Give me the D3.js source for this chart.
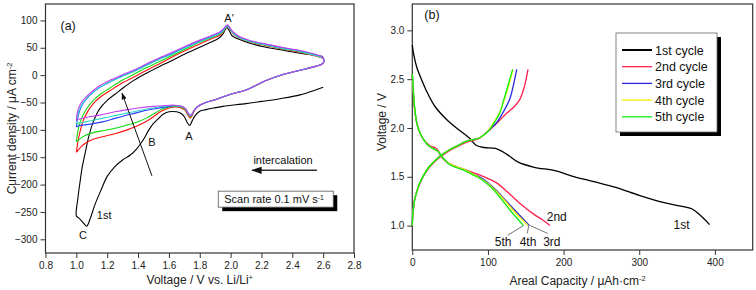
<!DOCTYPE html>
<html>
<head>
<meta charset="utf-8">
<script src="https://cdn.jsdelivr.net/npm/d3@7"></script>
<style>
  body { margin: 0; background: #fff; }
  svg { display: block; font-family: "Liberation Sans", Arial, sans-serif; }
</style>
</head>
<body>
<div id="chart"></div>
<script>
// ---- panel (a): cyclic voltammetry, [voltage V, current uA/cm2] ----
const cvVoltTicks = [0.8, 1.0, 1.2, 1.4, 1.6, 1.8, 2.0, 2.2, 2.4, 2.6, 2.8];
const cvCurrTicks = [-300, -250, -200, -150, -100, -50, 0, 50, 100];

const cvCycle1 = [
  [2.6,-22],[2.55,-27],[2.45,-36],[2.32,-43],[2.2,-48],[2.1,-52],[1.95,-57],[1.89,-60],[1.84,-63],
  [1.8,-66],[1.77,-74],[1.75,-84],[1.735,-92],[1.72,-87],[1.7,-76],[1.68,-70],[1.65,-67],[1.6,-67],
  [1.56,-72],[1.53,-80],[1.5,-88],[1.47,-100],[1.43,-120],[1.39,-135],[1.35,-146],[1.3,-155],
  [1.25,-167],[1.2,-185],[1.16,-210],[1.12,-237],[1.09,-262],[1.067,-276],[1.04,-268],[1.015,-261],
  [1.0,-257],[1.01,-225],[1.024,-195],[1.04,-165],[1.056,-144],[1.08,-113],[1.11,-85],[1.15,-62],
  [1.2,-46],[1.25,-35],[1.3,-24],[1.37,-10],[1.45,3],[1.54,16],[1.6,24],[1.7,38],[1.8,51],[1.87,60],
  [1.92,67],[1.95,75],[1.965,83],[1.975,87],[1.99,82],[2.01,72],[2.05,66],[2.13,58],[2.23,51],
  [2.35,45],[2.45,40],[2.55,36],[2.6,34]
];
const cvCycle2 = [
  [1.0,-141],[1.008,-125],[1.02,-108],[1.045,-83],[1.07,-68],[1.11,-52],[1.16,-39],[1.22,-28],
  [1.3,-14],[1.37,-4],[1.45,8],[1.54,21],[1.6,30],[1.7,44],[1.8,57],[1.88,67],[1.93,73],[1.955,80],
  [1.97,87],[1.98,89],[1.995,84],[2.02,75],[2.06,67],[2.13,60],[2.23,54],[2.35,47],[2.45,42],
  [2.55,35],[2.6,30],[2.6,22],[2.55,16],[2.45,9],[2.35,2],[2.23,-10],[2.1,-27],[2.0,-35],[1.9,-45],
  [1.84,-50],[1.8,-55],[1.77,-63],[1.75,-74],[1.74,-78],[1.725,-74],[1.71,-66],[1.68,-60],[1.64,-58],
  [1.6,-60],[1.55,-66],[1.5,-76],[1.45,-85],[1.4,-92],[1.33,-100],[1.25,-107],[1.18,-112],
  [1.11,-117],[1.06,-124],[1.03,-131],[1.0,-141]
];
const cvCycle3 = [
  [1.0,-122],[1.008,-105],[1.02,-90],[1.045,-72],[1.07,-60],[1.11,-46],[1.16,-34],[1.22,-23],
  [1.3,-9],[1.37,1],[1.45,13],[1.54,25],[1.6,33],[1.7,47],[1.8,60],[1.88,69],[1.93,75],[1.955,81],
  [1.97,88],[1.98,90],[1.995,85],[2.02,76],[2.06,68],[2.13,61],[2.23,55],[2.35,48],[2.45,43],
  [2.55,36],[2.6,31],[2.6,22],[2.55,16],[2.45,9],[2.35,2],[2.23,-10],[2.1,-27],[2.0,-35],[1.9,-45],
  [1.84,-50],[1.8,-55],[1.77,-62],[1.75,-72],[1.74,-76],[1.725,-72],[1.71,-64],[1.68,-58],[1.64,-57],
  [1.6,-58],[1.55,-63],[1.5,-71],[1.45,-79],[1.4,-85],[1.33,-91],[1.25,-97],[1.18,-101],
  [1.11,-105],[1.06,-110],[1.03,-115],[1.0,-122]
];
const cvCycle4 = [
  [1.0,-95],[1.006,-82],[1.02,-66],[1.045,-51],[1.07,-42],[1.11,-31],[1.16,-21],[1.22,-12],
  [1.3,-1],[1.37,7],[1.45,18],[1.54,30],[1.6,37],[1.7,50],[1.8,62],[1.88,71],[1.93,77],[1.955,83],
  [1.97,89],[1.98,91],[1.995,86],[2.02,77],[2.06,69],[2.13,62],[2.23,56],[2.35,49],[2.45,44],
  [2.55,37],[2.6,31],[2.6,22],[2.55,16],[2.45,9],[2.35,2],[2.23,-10],[2.1,-27],[2.0,-35],[1.9,-45],
  [1.84,-50],[1.8,-55],[1.77,-62],[1.75,-71],[1.74,-74],[1.725,-70],[1.71,-62],[1.68,-57],[1.64,-56],
  [1.6,-57],[1.5,-62],[1.4,-68],[1.33,-73],[1.25,-79],[1.175,-85],[1.1,-89],[1.05,-91],[1.02,-92],
  [1.0,-95]
];
const cvCycle5 = [
  [1.0,-89],[1.006,-77],[1.02,-63],[1.045,-50],[1.07,-41],[1.11,-31],[1.16,-21],[1.22,-12],
  [1.3,-2],[1.37,6],[1.45,17],[1.54,29],[1.6,36],[1.7,49],[1.8,61],[1.88,70],[1.93,76],[1.955,82],
  [1.97,88],[1.98,90],[1.995,85],[2.02,76],[2.06,68],[2.13,61],[2.23,55],[2.35,48],[2.45,43],
  [2.55,36],[2.6,31],[2.6,22],[2.55,16],[2.45,9],[2.35,2],[2.23,-10],[2.1,-27],[2.0,-35],[1.9,-45],
  [1.84,-50],[1.8,-55],[1.77,-62],[1.75,-71],[1.74,-74],[1.725,-70],[1.71,-62],[1.68,-57],[1.64,-56],
  [1.6,-56],[1.5,-60],[1.4,-65],[1.3,-71],[1.2,-77],[1.1,-83],[1.03,-87],[1.0,-89]
];
const cvCycle6 = [
  [1.0,-83],[1.004,-72],[1.015,-60],[1.04,-47],[1.067,-39],[1.11,-28],[1.153,-19],[1.22,-9],
  [1.3,1],[1.37,9],[1.45,20],[1.54,32],[1.6,39],[1.7,52],[1.8,64],[1.88,73],[1.93,79],[1.955,85],
  [1.97,90],[1.98,92],[1.995,87],[2.02,78],[2.06,70],[2.13,63],[2.23,57],[2.35,50],[2.45,45],
  [2.55,38],[2.6,32],[2.6,22],[2.55,16],[2.45,9],[2.35,2],[2.23,-10],[2.1,-27],[2.0,-35],[1.9,-45],
  [1.84,-50],[1.8,-55],[1.77,-62],[1.75,-71],[1.74,-74],[1.725,-70],[1.71,-62],[1.68,-57],[1.64,-55],
  [1.6,-55],[1.5,-57],[1.4,-60],[1.33,-63],[1.25,-67],[1.15,-73],[1.07,-77],[1.02,-80],[1.0,-83]
];
const cvSeries = [cvCycle1, cvCycle2, cvCycle3, cvCycle4, cvCycle5, cvCycle6];
const cvColors = ["#000000", "#ff1010", "#10dd10", "#2a3cff", "#30d8c8", "#c040f0"];

// ---- panel (b): galvanostatic curves, [capacity uAh/cm2, voltage V] ----
const capTicks = [0, 100, 200, 300, 400];
const voltTicks = [1.0, 1.5, 2.0, 2.5, 3.0];
const cycleNames = ["1st cycle", "2nd cycle", "3rd cycle", "4th cycle", "5th cycle"];
const cycleColors = ["#000000", "#ff2050", "#2828e0", "#f0f000", "#10ee10"];

const dis1 = [
  [0,2.85],[2,2.75],[6,2.62],[12,2.5],[20,2.36],[30,2.22],[45,2.09],[60,1.99],[75,1.9],[85,1.82],
  [95,1.8],[110,1.79],[125,1.73],[140,1.65],[160,1.6],[190,1.56],[210,1.51],[240,1.45],[270,1.39],
  [300,1.31],[330,1.24],[355,1.2],[370,1.17],[380,1.11],[393,1.01]
];
const dis2 = [
  [0,2.55],[1,2.4],[3,2.2],[6,2.05],[10,1.95],[15,1.88],[20,1.84],[25,1.81],[30,1.8],[34,1.77],
  [38,1.71],[44,1.66],[50,1.63],[58,1.6],[70,1.57],[85,1.53],[95,1.5],[111,1.44],[125,1.35],
  [142,1.23],[160,1.12],[172,1.06],[182,1.0]
];
const dis3 = [
  [0,2.55],[1,2.42],[3,2.2],[6,2.05],[10,1.95],[15,1.88],[20,1.83],[25,1.8],[30,1.78],[34,1.76],
  [38,1.72],[42,1.68],[50,1.63],[60,1.6],[70,1.57],[80,1.53],[89,1.5],[100,1.44],[110,1.37],
  [122,1.27],[134,1.17],[145,1.08],[155,1.0]
];
const dis4 = [
  [0,2.55],[1,2.42],[3,2.2],[6,2.05],[10,1.95],[15,1.88],[20,1.83],[25,1.8],[30,1.78],[34,1.76],
  [38,1.72],[42,1.68],[50,1.63],[60,1.6],[70,1.57],[80,1.53],[89,1.49],[100,1.43],[110,1.36],
  [122,1.26],[133,1.16],[144,1.07],[153,1.0]
];
const dis5 = [
  [0,2.55],[1,2.45],[2,2.3],[3.5,2.19],[6,2.05],[10,1.95],[15,1.88],[20,1.83],[25,1.8],[30,1.78],
  [34,1.76],[38,1.72],[42,1.68],[50,1.62],[60,1.59],[70,1.56],[80,1.52],[89,1.485],[100,1.42],
  [107,1.37],[118,1.27],[129,1.16],[138,1.08],[147,1.0]
];
const chg2 = [
  [0,1.0],[0.5,1.1],[1.3,1.16],[3,1.26],[6,1.35],[10,1.43],[15,1.51],[23,1.6],[33,1.68],[42,1.73],
  [52,1.78],[62,1.82],[74,1.86],[82,1.875],[90,1.9],[96,1.94],[102.5,1.98],[112,2.05],[124.7,2.15],
  [135,2.22],[142,2.29],[148,2.42],[153,2.6]
];
const chg3 = [
  [0,1.0],[0.5,1.1],[1.3,1.16],[3,1.26],[5.7,1.34],[9,1.42],[14.5,1.51],[22,1.6],[32,1.68],[40,1.73],
  [49.7,1.78],[60,1.82],[71.7,1.865],[80,1.88],[89,1.9],[96,1.94],[103,1.99],[112,2.06],[120,2.16],
  [129,2.3],[134,2.45],[138,2.6]
];
const chg4 = [
  [0,1.0],[0.5,1.1],[1.3,1.16],[3,1.26],[5.7,1.34],[9,1.42],[14.5,1.51],[22,1.6],[32,1.68],[40,1.73],
  [49.7,1.78],[60,1.82],[71.7,1.865],[80,1.88],[89,1.9],[95,1.93],[102,1.99],[108,2.06],[115.5,2.16],
  [122,2.3],[128,2.45],[133,2.6]
];
const chg5 = [
  [0,1.0],[0.5,1.1],[1.3,1.16],[3,1.26],[5.7,1.34],[9,1.42],[14.5,1.51],[22,1.6],[32,1.68],[40,1.73],
  [49.7,1.78],[60,1.82],[71.7,1.865],[80,1.88],[89,1.9],[95,1.93],[102,1.98],[108,2.05],[115.5,2.15],
  [121,2.29],[127,2.45],[132.6,2.6]
];
const gcCurves = [
  { pts: dis1, c: 0 }, { pts: dis2, c: 1 }, { pts: chg2, c: 1 },
  { pts: dis3, c: 2 }, { pts: chg3, c: 2 }, { pts: dis4, c: 3 }, { pts: chg4, c: 3 },
  { pts: dis5, c: 4 }, { pts: chg5, c: 4 }
];

// ---- drawing ----
const W = 756, H = 290;
const svg = d3.select("#chart").append("svg").attr("width", W).attr("height", H);
const ink = "#333";

function sup(textSel, parts) {
  // parts: [[string, isSuperscript], ...]
  parts.forEach(([s, up]) => {
    textSel.append("tspan")
      .attr("font-size", up ? "0.62em" : null)
      .attr("baseline-shift", up ? "super" : null)
      .text(s);
  });
}

function drawAxes(x, y, box, xTicks, xMinor, yTicks, yMinor, xFmt, yFmt) {
  const g = svg.append("g");
  const tickFont = "10px";
  const bx = g.append("g").attr("transform", `translate(0,${box.bottom})`);
  bx.call(d3.axisBottom(x).tickValues(xMinor).tickSize(3).tickFormat(""));
  bx.call(d3.axisBottom(x).tickValues(xTicks).tickSize(5).tickPadding(4).tickFormat(xFmt));
  const by = g.append("g").attr("transform", `translate(${box.left},0)`);
  by.call(d3.axisLeft(y).tickValues(yMinor).tickSize(3).tickFormat(""));
  by.call(d3.axisLeft(y).tickValues(yTicks).tickSize(5).tickPadding(3).tickFormat(yFmt));
  g.selectAll(".domain").remove();
  g.selectAll(".tick line").attr("stroke", ink);
  g.selectAll(".tick text").attr("fill", "#222").attr("font-size", tickFont)
    .attr("font-family", "Liberation Sans, Arial, sans-serif");
  g.append("rect")
    .attr("x", box.left).attr("y", box.top)
    .attr("width", box.right - box.left).attr("height", box.bottom - box.top)
    .attr("fill", "none").attr("stroke", ink).attr("stroke-width", 1.2);
  return g;
}

// panel (a)
const boxA = { left: 45.5, right: 354, top: 4, bottom: 253 };
const xA = d3.scaleLinear().domain([0.8, 2.8]).range([boxA.left, boxA.right]);
const yA = d3.scaleLinear().domain([-325, 130]).range([boxA.bottom, boxA.top]);

drawAxes(xA, yA, boxA,
  cvVoltTicks, d3.range(0.8, 2.81, 0.1),
  cvCurrTicks, d3.range(-325, 130, 25),
  d3.format(".1f"), d3.format("d"));

const lineA = d3.line().x(d => xA(d[0])).y(d => yA(d[1])).curve(d3.curveCatmullRom.alpha(0.5));
svg.append("g").selectAll("path")
  .data(cvSeries)
  .join("path")
  .attr("d", lineA)
  .attr("fill", "none")
  .attr("stroke", (d, i) => cvColors[i])
  .attr("stroke-width", 1.1);

const textA = svg.append("g").attr("fill", "#111").attr("font-size", "11px");
textA.append("text").attr("x", boxA.left + 15).attr("y", boxA.top + 26)
  .attr("font-size", "12.5px").text("(a)");
const cvNotes = [
  { t: "A'", v: 1.99, i: 98 },
  { t: "A", v: 1.73, i: -119 },
  { t: "B", v: 1.49, i: -130 },
  { t: "C", v: 1.043, i: -300 },
  { t: "1st", v: 1.18, i: -262 }
];
textA.selectAll("text.note").data(cvNotes).join("text")
  .attr("class", "note")
  .attr("x", d => xA(d.v)).attr("y", d => yA(d.i))
  .attr("text-anchor", "middle").text(d => d.t);

// arrow for B
const defs = svg.append("defs");
defs.append("marker").attr("id", "head")
  .attr("viewBox", "0 0 10 10").attr("refX", 9).attr("refY", 5)
  .attr("markerWidth", 7).attr("markerHeight", 7).attr("orient", "auto")
  .append("path").attr("d", "M0,1.5L10,5L0,8.5Z").attr("fill", "#111");
svg.append("line")
  .attr("x1", xA(1.49)).attr("y1", yA(-184))
  .attr("x2", xA(1.296)).attr("y2", yA(-33))
  .attr("stroke", "#111").attr("stroke-width", 1)
  .attr("marker-end", "url(#head)");

// intercalation arrow
textA.append("text").attr("x", xA(2.34)).attr("y", yA(-163))
  .attr("text-anchor", "middle").text("intercalation");
svg.append("line")
  .attr("x1", xA(2.56)).attr("y1", yA(-174))
  .attr("x2", xA(2.14)).attr("y2", yA(-174))
  .attr("stroke", "#333").attr("stroke-width", 1.5)
  .attr("marker-end", "url(#head)");

// scan rate box
const scanBox = { x: xA(1.92), y: yA(-212), w: 115, h: 16 };
svg.append("rect").attr("x", scanBox.x + 4).attr("y", scanBox.y + 4)
  .attr("width", scanBox.w).attr("height", scanBox.h).attr("fill", "#000");
svg.append("rect").attr("x", scanBox.x).attr("y", scanBox.y)
  .attr("width", scanBox.w).attr("height", scanBox.h)
  .attr("fill", "#fff").attr("stroke", "#555").attr("stroke-width", 0.8);
sup(svg.append("text").attr("x", scanBox.x + 6).attr("y", scanBox.y + 12)
  .attr("font-size", "11px").attr("fill", "#111"),
  [["Scan rate 0.1 mV s", false], ["-1", true]]);

// axis titles (a)
sup(svg.append("text").attr("text-anchor", "middle").attr("font-size", "12px").attr("fill", "#222")
  .attr("transform", `translate(16,${(boxA.top + boxA.bottom) / 2}) rotate(-90)`),
  [["Current density / μA cm", false], ["-2", true]]);
sup(svg.append("text").attr("text-anchor", "middle").attr("font-size", "12px").attr("fill", "#222")
  .attr("x", (boxA.left + boxA.right) / 2).attr("y", 284),
  [["Voltage / V vs. Li/Li", false], ["+", true]]);

// panel (b)
const boxB = { left: 412.3, right: 752.7, top: 4, bottom: 250 };
const xB = d3.scaleLinear().domain([0, 450]).range([boxB.left, boxB.right]);
const yB = d3.scaleLinear().domain([0.75, 3.27]).range([boxB.bottom, boxB.top]);

drawAxes(xB, yB, boxB,
  capTicks, d3.range(0, 451, 50),
  voltTicks, d3.range(0.75, 3.26, 0.25),
  d3.format("d"), d3.format(".1f"));

const lineB = d3.line().x(d => xB(d[0])).y(d => yB(d[1])).curve(d3.curveCatmullRom.alpha(0.5));
svg.append("g").selectAll("path")
  .data(gcCurves)
  .join("path")
  .attr("d", d => lineB(d.pts))
  .attr("fill", "none")
  .attr("stroke", d => cycleColors[d.c])
  .attr("stroke-width", 1.3);

const textB = svg.append("g").attr("fill", "#111").attr("font-size", "12px");
textB.append("text").attr("x", boxB.left + 12).attr("y", boxB.top + 15)
  .attr("font-size", "12.5px").text("(b)");
const gcNotes = [
  { t: "2nd", q: 191, v: 1.047 },
  { t: "1st", q: 356, v: 0.965 },
  { t: "5th", q: 120, v: 0.79 },
  { t: "4th", q: 153, v: 0.79 },
  { t: "3rd", q: 184.5, v: 0.79 }
];
textB.selectAll("text.note").data(gcNotes).join("text")
  .attr("class", "note")
  .attr("x", d => xB(d.q)).attr("y", d => yB(d.v))
  .attr("text-anchor", "middle").text(d => d.t);
const leaders = [
  [[126, 0.9], [147, 1.0]],
  [[152, 0.92], [154, 1.0]],
  [[179, 0.92], [156, 1.0]]
];
svg.append("g").selectAll("line").data(leaders).join("line")
  .attr("x1", d => xB(d[0][0])).attr("y1", d => yB(d[0][1]))
  .attr("x2", d => xB(d[1][0])).attr("y2", d => yB(d[1][1]))
  .attr("stroke", "#777").attr("stroke-width", 1);

// legend
const lg = { x: 616, y: 33, w: 101, h: 99 };
svg.append("rect").attr("x", lg.x + 4).attr("y", lg.y + 4)
  .attr("width", lg.w).attr("height", lg.h).attr("fill", "#000");
svg.append("rect").attr("x", lg.x).attr("y", lg.y)
  .attr("width", lg.w).attr("height", lg.h)
  .attr("fill", "#fff").attr("stroke", "#666").attr("stroke-width", 0.8);
const legendItems = svg.append("g").selectAll("g").data(cycleNames).join("g")
  .attr("transform", (d, i) => `translate(${lg.x + 6},${lg.y + 17 + i * 16.7})`);
legendItems.append("line").attr("x1", 0).attr("x2", 30)
  .attr("stroke", (d, i) => cycleColors[i]).attr("stroke-width", (d, i) => i === 0 ? 2 : 1.3);
legendItems.append("text").attr("x", 33).attr("y", 4.5)
  .attr("font-size", "12.5px").attr("fill", "#111").text(d => d);

// axis titles (b)
svg.append("text").attr("text-anchor", "middle").attr("font-size", "12px").attr("fill", "#222")
  .attr("transform", `translate(386,${(boxB.top + boxB.bottom) / 2 - 5}) rotate(-90)`)
  .text("Voltage / V");
sup(svg.append("text").attr("text-anchor", "middle").attr("font-size", "12px").attr("fill", "#222")
  .attr("x", (boxB.left + boxB.right) / 2 - 5).attr("y", 285),
  [["Areal Capacity / μAh·cm", false], ["-2", true]]);
</script>
</body>
</html>
